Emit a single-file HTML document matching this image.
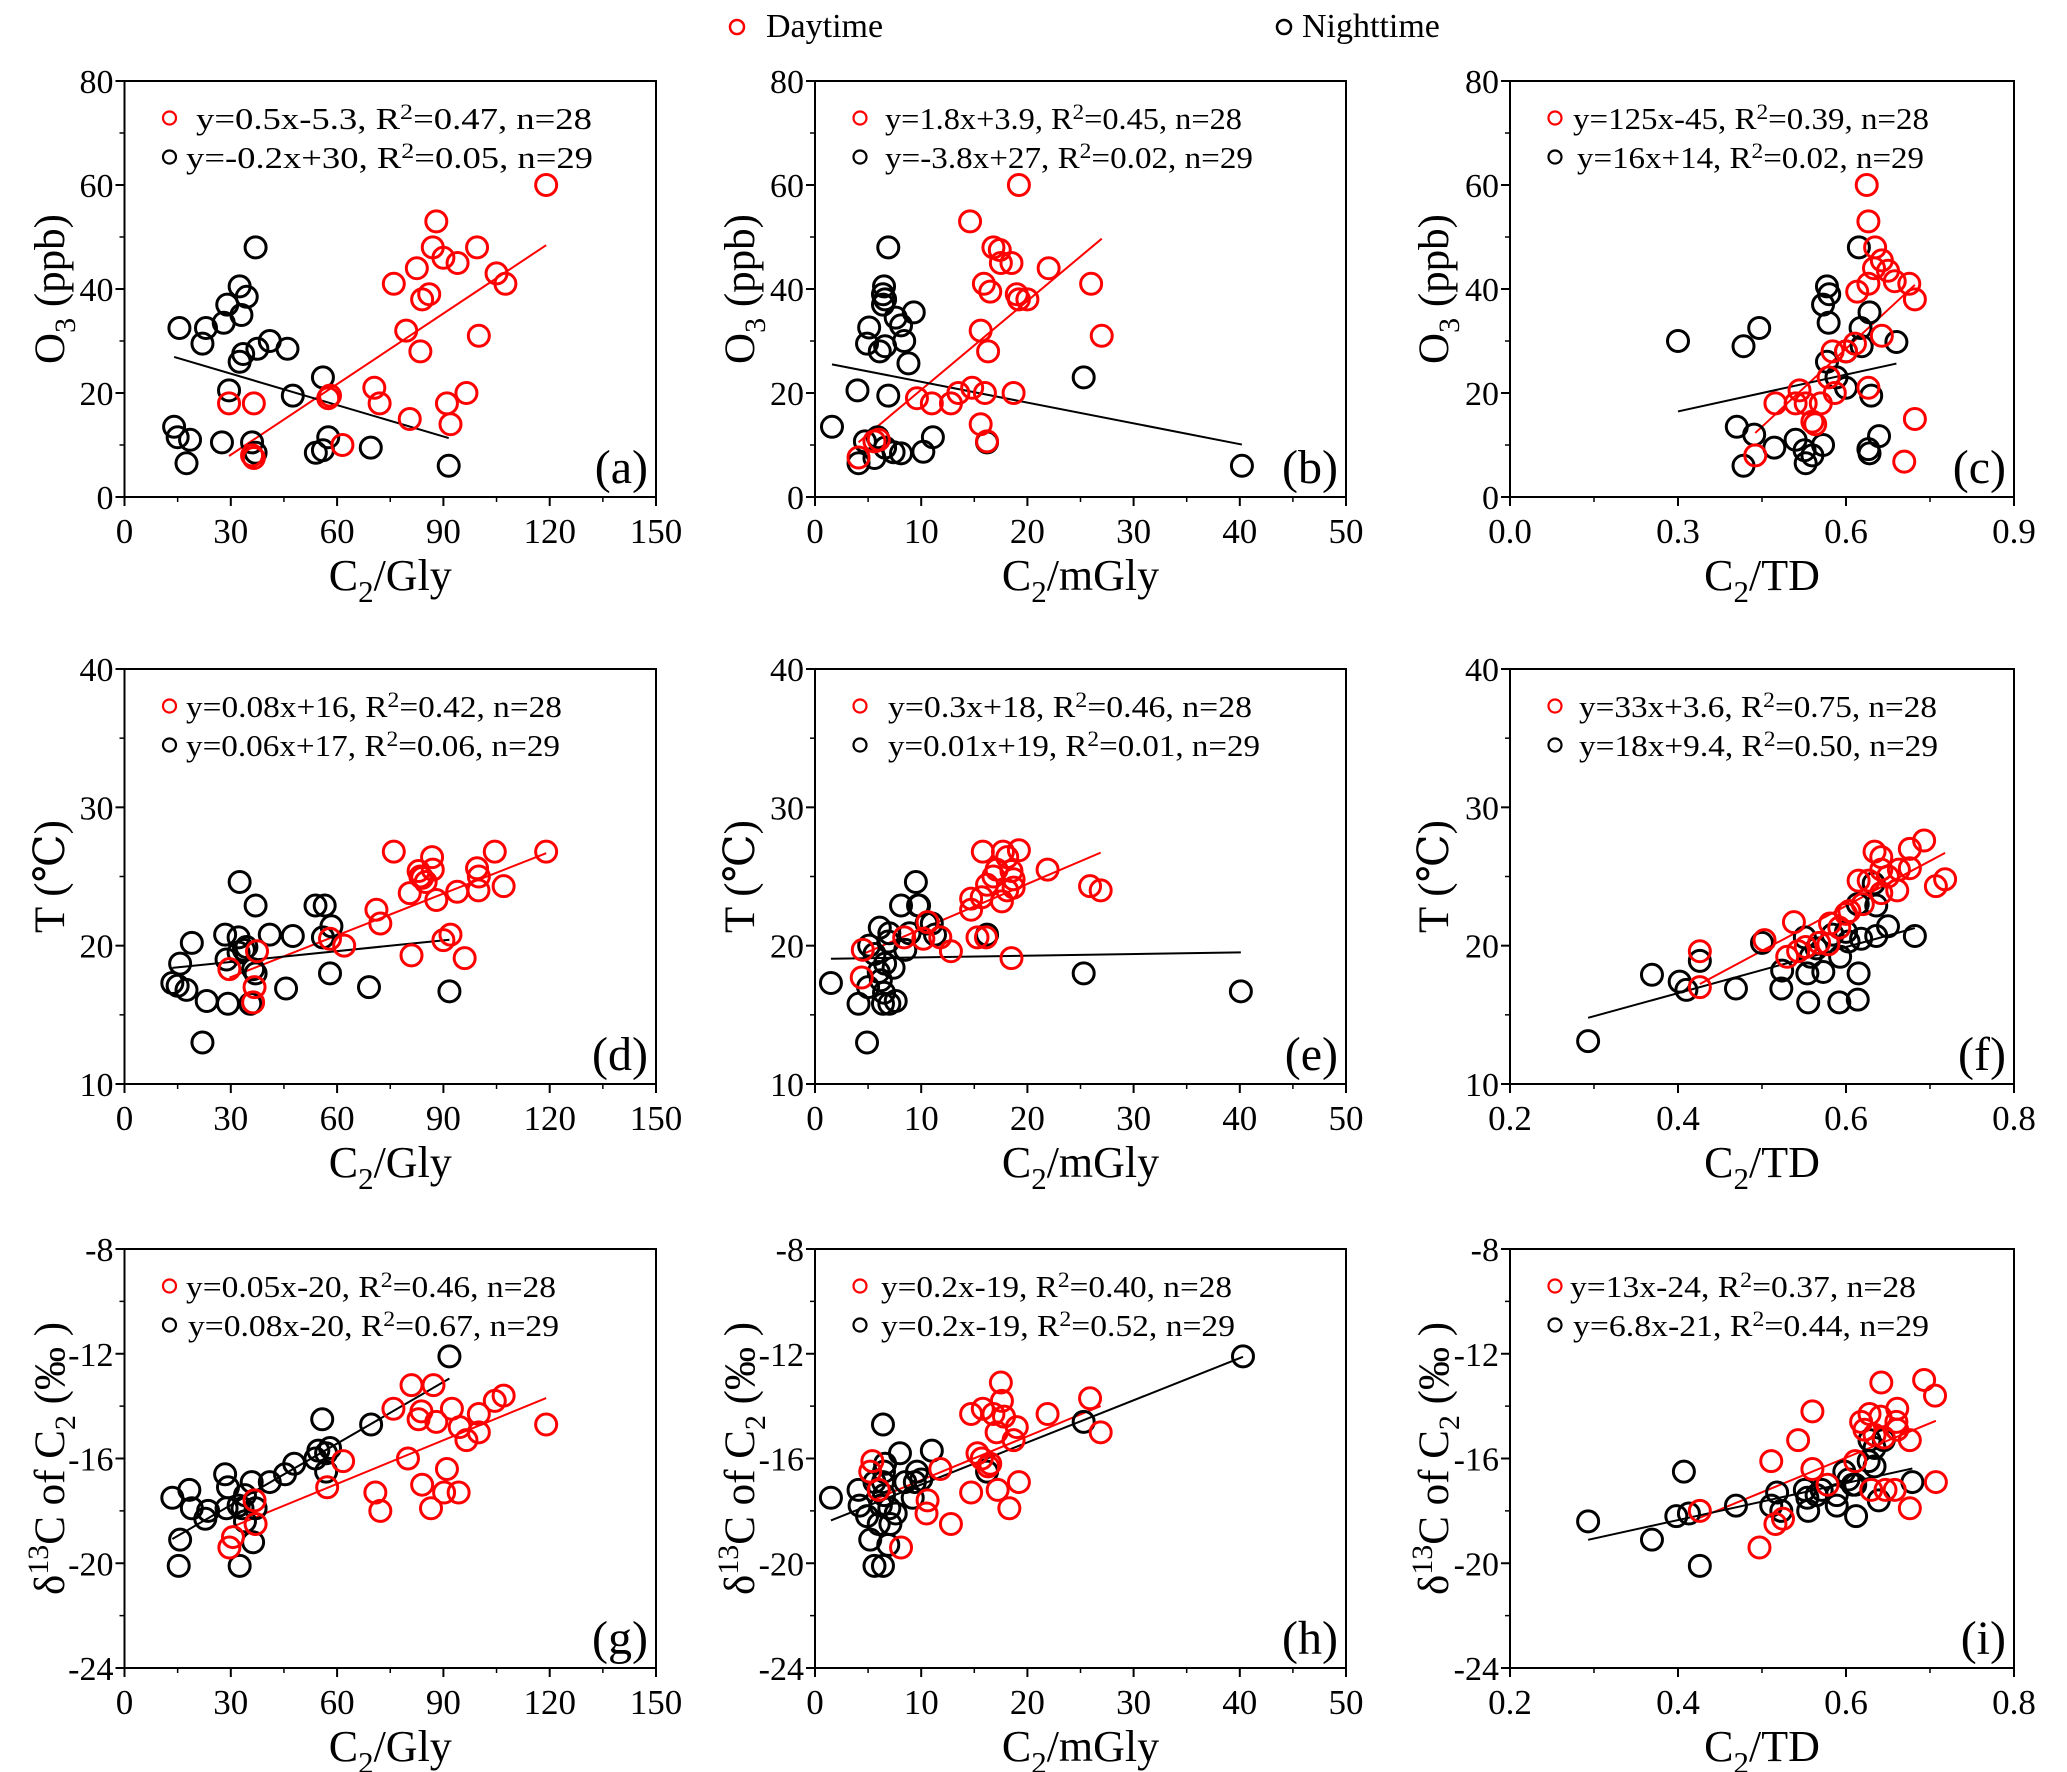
<!DOCTYPE html>
<html><head><meta charset="utf-8">
<style>
html,body{margin:0;padding:0;background:#fff;}
svg{display:block;font-family:"Liberation Serif","Times New Roman","DejaVu Serif",serif;}
</style></head>
<body>
<svg id="fig" width="2067" height="1772" viewBox="0 0 2067 1772" xmlns="http://www.w3.org/2000/svg">
<rect width="2067" height="1772" fill="#fff"/>
<g>
<circle cx="737" cy="27" r="7" fill="none" stroke="#ff0000" stroke-width="2.5"/>
<text x="766" y="37" font-size="34">Daytime</text>
<circle cx="1284" cy="27" r="7" fill="none" stroke="#000" stroke-width="2.5"/>
<text x="1302" y="37" font-size="34">Nighttime</text>
</g>
</svg>
<script>
// ---- data ----
const aDayX=[29.5,36.5,36.5,36,57.5,58,61.5,70.5,72,76,79.5,80.5,82.5,83.5,84,86,87,88,90,91,92,94,96.5,99.5,100,105,107.5,119];
const aDayY=[18,18,7.5,8,19,19.5,10,21,18,41,32,15,44,28,38,39,48,53,46,18,14,45,20,48,31,43,41,60];
const aNightX=[14,15,15.5,17.5,18.5,22,23,27.5,28,29,29.5,32.5,32.5,33,33.5,34.5,36,37,37,37.5,41,46,47.5,54,56,56,57.5,69.5,91.5];
const aNightY=[13.5,11.5,32.5,6.5,11,29.5,32.5,10.5,33.5,37,20.5,26,40.5,35,27.5,38.5,10.5,48,8.5,28.5,30,28.5,19.5,8.5,23,9,11.5,9.5,6];
const bDayX=[19.2,14.6,16.8,17.4,18.5,22,15.9,26,19.2,16.5,27,15.6,16.3,14.8,18.7,9.6,12.8,11,15.6,16.2,4.1,5.6,17.5,19,6,13.5,16,20];
const bDayY=[60,53,48,47.5,45,44,41,41,38,39.5,31,32,28,21,20,19,18,18,14,10.7,7.6,10.7,45,39,11,20,20,38];
const bNightX=[1.6,4,5.1,4.9,6.1,6.6,6.4,6.4,6.5,6.6,6.9,7.6,8.1,9.3,8.4,8.8,6.9,5.9,6.6,7.4,8.1,10.2,11.1,16.2,25.3,40.2,4.1,4.7,5.6];
const bNightY=[13.5,20.5,32.6,29.5,28,29,37,39,40.5,38,48,34.5,33,35.5,30,25.7,19.5,11.5,9.5,8.6,8.4,8.7,11.5,10.5,23,6,6.5,10.7,7.5];
const cDayX=[0.637,0.64,0.652,0.664,0.675,0.687,0.713,0.723,0.64,0.664,0.64,0.576,0.58,0.555,0.528,0.51,0.474,0.517,0.569,0.438,0.704,0.723,0.616,0.6,0.54,0.62,0.545,0.65];
const cDayY=[60,53,48,45.5,43.5,41.5,41,38,41,31,21,28,20,18,18,18,18,20.5,23,8,6.8,15,29.5,28,14.5,39.5,14,44];
const cNightX=[0.30,0.445,0.417,0.405,0.417,0.436,0.472,0.51,0.526,0.528,0.559,0.569,0.566,0.57,0.559,0.566,0.583,0.6,0.6,0.626,0.628,0.623,0.642,0.645,0.64,0.642,0.659,0.69,0.54];
const cNightY=[30,32.5,29,13.5,6,12,9.5,11,9,6.5,10,33.5,40.5,39,37,26,23,21,28,32.5,29,48,35.5,19.5,9.2,8.4,11.7,29.8,8];
const dDayX=[119,107,104.5,99.9,99.5,93.9,96,90,92,88,86.8,87,85,83.5,83,80.5,76,81,72.2,71.1,62,58,36.7,37.4,36.3,29.6,84,100];
const dDayY=[26.8,24.3,26.8,24,25.6,23.9,19.1,20.4,20.8,23.3,26.4,25.5,24.6,25,25.4,23.8,26.8,19.3,21.6,22.6,20,20.5,17,19.6,15.9,18.3,24.9,25];
const dNightX=[13.5,15.7,15,19,17.5,23.2,22,28.4,28.8,29.2,32.5,32.2,32.2,33.7,34.4,36.3,35.5,37,37,41,45.6,47.5,53.9,56.5,58,58.4,56,69,91.7];
const dNightY=[17.3,18.7,17.1,20.2,16.8,16,13,20.8,19,15.8,24.6,19.5,20.6,19.7,19.9,18.3,15.8,22.9,18,20.8,16.9,20.7,22.9,22.9,18,21.4,20.6,17,16.7];
const eDayX=[19.2,15.8,17.7,18.1,17.1,16.8,18.5,18.7,21.9,16.2,15.7,14.7,14.7,17.6,18.1,18.7,25.9,26.9,16.1,15.3,18.5,12.8,11.8,10.6,10.2,4.5,8.4,4.4];
const eDayY=[26.9,26.8,26.8,26.4,25.5,25,25.4,24.8,25.5,24.4,23.5,22.6,23.4,23.2,24,24.2,24.3,24,20.6,20.6,19.1,19.6,20.6,21.7,20.5,19.7,20.6,17.7];
const eNightX=[1.5,4.1,4.9,5,5.1,5.6,6,6.2,6.5,6.4,6.6,6.9,7,7.4,7,7.6,8.1,8.5,8.9,9.5,9.7,9.8,10.5,11,11.3,16.2,25.3,40.1,6.1];
const eNightY=[17.3,15.8,13,17,20,19.4,18.1,17.5,16.6,15.8,18.7,20.3,20.9,18.4,15.8,16,22.9,19.7,20.9,24.6,22.9,22.9,21.6,21.6,20.8,20.8,18,16.7,21.3];
const fDayX=[0.693,0.676,0.676,0.634,0.642,0.642,0.663,0.65,0.627,0.615,0.718,0.707,0.661,0.642,0.62,0.6,0.581,0.538,0.503,0.543,0.53,0.568,0.579,0.552,0.426,0.426,0.592,0.604];
const fDayY=[27.6,27,25.6,26.8,26.4,25.5,25.5,25,24.7,24.7,24.8,24.3,24,23.8,23,22.3,21.6,21.7,20.4,19.6,19.2,20.2,20.1,19.9,19.6,17,21.3,22.5];
const fNightX=[0.293,0.369,0.402,0.41,0.426,0.469,0.5,0.524,0.523,0.554,0.555,0.551,0.558,0.565,0.573,0.593,0.6,0.592,0.614,0.614,0.633,0.636,0.636,0.615,0.65,0.682,0.584,0.618,0.603];
const fNightY=[13.1,17.9,17.4,16.8,18.9,16.9,20.2,18.2,16.9,18,15.9,20.6,19.2,19.8,18.1,19.2,21,15.9,16.1,23,24.5,22.9,20.7,18,21.4,20.7,20.8,20.5,20.3];
const gDayX=[119,107,104.5,100,100,94.6,96.5,94.3,90.2,91,92.4,88,87.2,81,83,83.8,75.9,80,84,86.5,70.8,72.2,61.7,57.2,36.7,37,29.6,30.6];
const gDayY=[-14.7,-13.6,-13.8,-14.3,-15,-14.8,-15.3,-17.3,-17.3,-16.4,-14.1,-14.6,-13.2,-13.2,-14.5,-14.2,-14.1,-16,-17,-17.9,-17.3,-18,-16.1,-17.1,-17.6,-18.5,-19.4,-19];
const gNightX=[13.5,15.7,15.3,18.3,19,22.8,23.6,28.4,29.2,28.8,32.5,32.2,34,34,35.9,36.3,37,41,45.3,47.9,53.9,56.9,56.9,55.8,58,69.6,91.7,54.7,33.3];
const gNightY=[-17.5,-19.1,-20.1,-17.2,-17.9,-18.3,-18,-16.6,-17.1,-17.9,-20.1,-17.8,-18.4,-17.4,-16.9,-19.2,-17.9,-16.9,-16.6,-16.2,-16,-15.8,-16.5,-14.5,-15.6,-14.7,-12.1,-15.7,-17.9];
const hDayX=[17.5,17.6,16.8,15.8,14.7,21.9,25.9,26.9,18.7,19,15.7,16.3,11.8,17.2,14.7,19.2,18.3,10.5,12.8,8.1,5.4,5.2,17.1,17.8,6,10.6,16.5,15.3];
const hDayY=[-13.1,-13.8,-14.3,-14.1,-14.3,-14.3,-13.7,-15,-15.3,-14.8,-16,-16.3,-16.4,-17.2,-17.3,-16.9,-17.9,-18.1,-18.5,-19.4,-16.1,-16.5,-15,-14.4,-17.2,-17.6,-16.2,-15.8];
const hNightX=[1.5,4.1,4.2,4.9,5.2,5.6,6.4,6.4,6.5,6.4,6.5,6.2,6,6.9,7,7.6,8,8.5,9.2,9.6,11,16.2,25.3,40.3,5.6,7.1,9.4,10,6.6];
const hNightY=[-17.5,-17.2,-17.8,-18.2,-19.1,-20.1,-20.1,-14.7,-16.5,-16.9,-17.4,-17.8,-18.5,-19.3,-17.9,-18.1,-15.8,-16.9,-17.5,-16.5,-15.7,-16.5,-14.6,-12.1,-16.9,-18.5,-16.9,-16.8,-16.2];
const iDayX=[0.693,0.706,0.642,0.661,0.641,0.628,0.618,0.622,0.66,0.661,0.645,0.676,0.56,0.543,0.511,0.56,0.611,0.707,0.578,0.63,0.647,0.658,0.676,0.426,0.525,0.516,0.497,0.634];
const iDayY=[-13,-13.6,-13.1,-14.1,-14.4,-14.3,-14.6,-14.9,-14.6,-14.9,-15.2,-15.3,-14.2,-15.3,-16.1,-16.4,-16.1,-16.9,-17,-17.2,-17.2,-17.2,-17.9,-18,-18.3,-18.5,-19.4,-15.1];
const iNightX=[0.293,0.369,0.398,0.413,0.407,0.426,0.469,0.511,0.518,0.523,0.551,0.554,0.555,0.565,0.571,0.589,0.589,0.598,0.603,0.608,0.612,0.627,0.628,0.634,0.634,0.639,0.645,0.679,0.611];
const iNightY=[-18.4,-19.1,-18.2,-18.1,-16.5,-20.1,-17.8,-17.8,-17.3,-18,-17.2,-17.5,-18,-17.4,-17.2,-17.4,-17.8,-16.5,-16.8,-17,-18.2,-16.1,-15.3,-15.6,-16.3,-17.6,-15.3,-16.9,-17];

const glyTicks=[0,30,60,90,120,150];
const mglyTicks=[0,10,20,30,40,50];
const tdTicks1=["0.0","0.3","0.6","0.9"];
const tdTicks2=["0.2","0.4","0.6","0.8"];
const o3Ticks=[0,20,40,60,80];
const tTicks=[10,20,30,40];
const dTicks=[-24,-20,-16,-12,-8];

const legendText={
 a:["y=0.5x-5.3, R|2|=0.47, n=28","y=-0.2x+30, R|2|=0.05, n=29"],
 b:["y=1.8x+3.9, R|2|=0.45, n=28","y=-3.8x+27, R|2|=0.02, n=29"],
 c:["y=125x-45, R|2|=0.39, n=28","y=16x+14, R|2|=0.02, n=29"],
 d:["y=0.08x+16, R|2|=0.42, n=28","y=0.06x+17, R|2|=0.06, n=29"],
 e:["y=0.3x+18,  R|2|=0.46, n=28","y=0.01x+19, R|2|=0.01, n=29"],
 f:["y=33x+3.6, R|2|=0.75, n=28","y=18x+9.4, R|2|=0.50, n=29"],
 g:["y=0.05x-20, R|2|=0.46, n=28","y=0.08x-20, R|2|=0.67, n=29"],
 h:["y=0.2x-19, R|2|=0.40, n=28","y=0.2x-19, R|2|=0.52, n=29"],
 i:["y=13x-24, R|2|=0.37, n=28","y=6.8x-21, R|2|=0.44, n=29"]
};

// ---- layout ----
const NS="http://www.w3.org/2000/svg";
const svg=document.getElementById('fig');
function mk(tag,attrs,parent){const e=document.createElementNS(NS,tag);for(const k in attrs)e.setAttribute(k,attrs[k]);(parent||svg).appendChild(e);return e;}

const cols=[{x0:124.5,x1:656,ytx:50},{x0:815,x1:1346,ytx:740},{x0:1510,x1:2014,ytx:1434}];
const rows=[{y0:81,y1:497},{y0:669,y1:1084},{y0:1249,y1:1668}];
const legGeom={a:[[196,396],[186,407]],b:[[885,357],[885,368]],c:[[1573,356],[1577,347]],
 d:[[186,376],[186,374]],e:[[888,364],[888,372]],f:[[1579,358],[1579,359]],
 g:[[186,370],[188,371]],h:[[881,351],[881,354]],i:[[1570,346],[1573,356]]};

const panels=[
 {id:'a',c:0,r:0,xd:[0,150],xt:glyTicks,xl:'Gly',dx:aDayX,dy:aDayY,nx:aNightX,ny:aNightY},
 {id:'b',c:1,r:0,xd:[0,50],xt:mglyTicks,xl:'mGly',dx:bDayX,dy:bDayY,nx:bNightX,ny:bNightY},
 {id:'c',c:2,r:0,xd:[0,0.9],xt:tdTicks1,xl:'TD',dx:cDayX,dy:cDayY,nx:cNightX,ny:cNightY},
 {id:'d',c:0,r:1,xd:[0,150],xt:glyTicks,xl:'Gly',dx:dDayX,dy:dDayY,nx:dNightX,ny:dNightY},
 {id:'e',c:1,r:1,xd:[0,50],xt:mglyTicks,xl:'mGly',dx:eDayX,dy:eDayY,nx:eNightX,ny:eNightY},
 {id:'f',c:2,r:1,xd:[0.2,0.8],xt:tdTicks2,xl:'TD',dx:fDayX,dy:fDayY,nx:fNightX,ny:fNightY},
 {id:'g',c:0,r:2,xd:[0,150],xt:glyTicks,xl:'Gly',dx:gDayX,dy:gDayY,nx:gNightX,ny:gNightY},
 {id:'h',c:1,r:2,xd:[0,50],xt:mglyTicks,xl:'mGly',dx:hDayX,dy:hDayY,nx:hNightX,ny:hNightY},
 {id:'i',c:2,r:2,xd:[0.2,0.8],xt:tdTicks2,xl:'TD',dx:iDayX,dy:iDayY,nx:iNightX,ny:iNightY}
];
const rowY=[{yd:[0,80],yt:o3Ticks},{yd:[10,40],yt:tTicks},{yd:[-24,-8],yt:dTicks}];

function fit(xs,ys){const n=xs.length;let sx=0,sy=0,sxx=0,sxy=0;for(let i=0;i<n;i++){sx+=xs[i];sy+=ys[i];sxx+=xs[i]*xs[i];sxy+=xs[i]*ys[i];}
 const b=(n*sxy-sx*sy)/(n*sxx-sx*sx);return {b:b,a:(sy-b*sx)/n};}

panels.forEach(p=>{
 const C=cols[p.c],R=rows[p.r],Y=rowY[p.r];
 const g=mk('g',{});
 
 
 const X=v=>C.x0+(v-p.xd[0])/(p.xd[1]-p.xd[0])*(C.x1-C.x0);
 const Yf=v=>R.y1-(v-Y.yd[0])/(Y.yd[1]-Y.yd[0])*(R.y1-R.y0);
 const frame=mk('rect',{x:C.x0,y:R.y0,width:C.x1-C.x0,height:R.y1-R.y0,fill:'none',stroke:'#000','stroke-width':2},g);
 
 
 const xt=p.xt.map(Number);
 xt.forEach((v,i)=>{
  const x=X(v);
  mk('line',{x1:x,x2:x,y1:R.y1,y2:R.y1+9,stroke:'#000','stroke-width':2},g);
  const t=mk('text',{x:x,y:R.y1+46,'font-size':35,'text-anchor':'middle'},g);
  
  
  t.textContent=p.xt[i];
 });
 for(let i=0;i<xt.length-1;i++){const xm=X((xt[i]+xt[i+1])/2);mk('line',{x1:xm,x2:xm,y1:R.y1,y2:R.y1+5,stroke:'#000','stroke-width':1.5},g);}
 Y.yt.forEach((v,i)=>{
  const y=Yf(v);
  mk('line',{x1:C.x0-9,x2:C.x0,y1:y,y2:y,stroke:'#000','stroke-width':2},g);
  const t=mk('text',{x:C.x0-11,y:y+12,'font-size':34,'text-anchor':'end'},g);
  
  
  t.textContent=v;
  if(i<Y.yt.length-1){const ym=Yf((v+Y.yt[i+1])/2);mk('line',{x1:C.x0-5,x2:C.x0,y1:ym,y2:ym,stroke:'#000','stroke-width':1.5},g);}
 });
 const xt2=mk('text',{x:(C.x0+C.x1)/2,y:R.y1+93,'font-size':44,'text-anchor':'middle'},g);
 
 
 xt2.innerHTML='C<tspan font-size="31" dy="12">2</tspan><tspan dy="-12">/'+p.xl+'</tspan>';
 const cy=(R.y0+R.y1)/2;
 const yt=mk('text',{x:0,y:0,'font-size':43,'text-anchor':'middle',transform:'translate('+(C.ytx+14)+','+cy+') rotate(-90)'},g);
 
 
 if(p.r===0) yt.innerHTML='O<tspan font-size="30" dy="11">3</tspan><tspan dy="-11"> (ppb)</tspan>';
 else if(p.r===1) yt.innerHTML='T (℃)';
 else yt.innerHTML='δ<tspan font-size="30" dy="-16">13</tspan><tspan dy="16">C of C</tspan><tspan font-size="30" dy="11">2</tspan><tspan dy="-11"> (‰ )</tspan>';
 [[p.dx,p.dy,'#ff0000','day'],[p.nx,p.ny,'#000','night']].forEach(s=>{
  const f=fit(s[0],s[1]);const mn=Math.min(...s[0]),mx=Math.max(...s[0]);
  const l=mk('line',{x1:X(mn),y1:Yf(f.a+f.b*mn),x2:X(mx),y2:Yf(f.a+f.b*mx),stroke:s[2],'stroke-width':2},g);
  
  
 });
 [[p.nx,p.ny,'#000','night'],[p.dx,p.dy,'#ff0000','day']].forEach(s=>{
  s[0].forEach((v,i)=>{
   const c=mk('circle',{cx:X(v),cy:Yf(s[1][i]),r:10.5,fill:'none',stroke:s[2],'stroke-width':3},g);
   
   
  });
 });
 const lg=legGeom[p.id];
 [['#ff0000',0],['#000',1]].forEach(s=>{
  const ly=R.y0+37+s[1]*39;
  const m=mk('circle',{cx:C.x0+45,cy:ly,r:6.5,fill:'none',stroke:s[0],'stroke-width':2.2},g);
  
  
  const parts=legendText[p.id][s[1]].split('|');
  const t=mk('text',{x:lg[s[1]][0],y:ly+11,'font-size':31,textLength:lg[s[1]][1],lengthAdjust:'spacingAndGlyphs'},g);
  
  
  t.innerHTML=parts[0]+'<tspan font-size="22" dy="-10">'+parts[1]+'</tspan><tspan dy="10">'+parts[2]+'</tspan>';
 });
 const pl=mk('text',{x:C.x1-8,y:R.y1-14,'font-size':48,'text-anchor':'end'},g);
 
 
 pl.textContent='('+p.id+')';
});
</script>
</body></html>
